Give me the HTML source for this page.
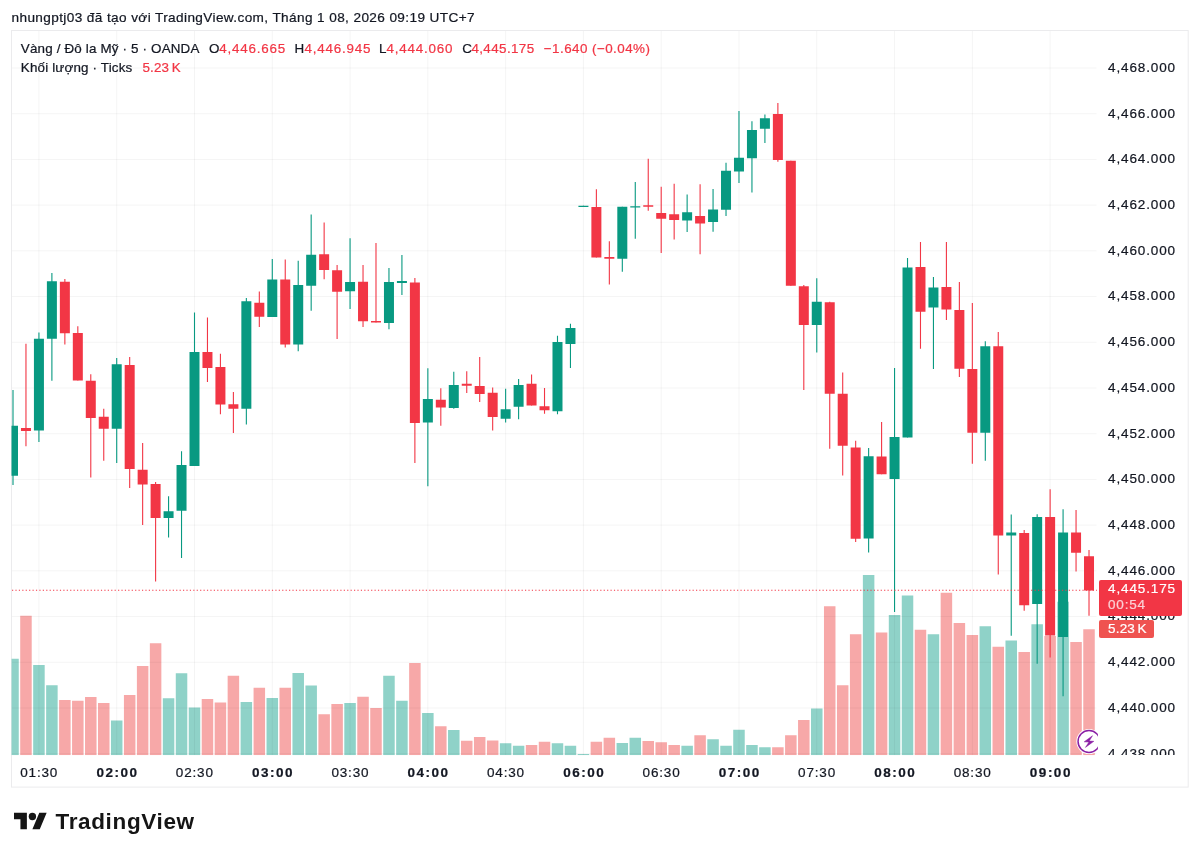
<!DOCTYPE html>
<html lang="vi"><head><meta charset="utf-8"><title>XAUUSD</title>
<style>
html,body{margin:0;padding:0;background:#fff;}
body{width:1200px;height:856px;position:relative;overflow:hidden;font-family:"Liberation Sans",sans-serif;color:#131722;}
.t{position:absolute;white-space:nowrap;line-height:1;-webkit-text-stroke:0.22px currentColor;}
.hd{font-size:13.6px;left:11.5px;top:11.35px;letter-spacing:0.39px}
.lg{font-size:13.4px;letter-spacing:0.17px}
.vk{word-spacing:-1.5px}
.r{color:#f23645;}
.pl{font-size:13.5px;letter-spacing:0.87px;left:1108px;}
.tl{font-size:13.5px;top:766.07px;letter-spacing:0.83px}
.tl.b{letter-spacing:1.5px}
.b{font-weight:bold;}
#axis{position:absolute;left:1098px;top:31px;width:90px;height:724.2px;overflow:hidden;}
#axis .pl{left:10px;}
</style></head><body>

<svg width="1200" height="856" viewBox="0 0 1200 856" style="position:absolute;left:0;top:0">
<defs><clipPath id="pane"><rect x="11.5" y="31" width="1085.5" height="724.2"/></clipPath><clipPath id="pane2"><rect x="11.5" y="31" width="1086.4" height="724.2"/></clipPath></defs>
<rect x="11.5" y="30.5" width="1176.7" height="756.6" fill="none" stroke="#ebebed" stroke-width="1"/>
<g clip-path="url(#pane)">
<rect x="7.25" y="658.75" width="11.5" height="96.45" fill="#8fd2c8"/>
<rect x="20.21" y="615.75" width="11.5" height="139.45" fill="#f7a8a8"/>
<rect x="33.18" y="665.00" width="11.5" height="90.20" fill="#8fd2c8"/>
<rect x="46.14" y="685.25" width="11.5" height="69.95" fill="#8fd2c8"/>
<rect x="59.11" y="700.00" width="11.5" height="55.20" fill="#f7a8a8"/>
<rect x="72.07" y="700.75" width="11.5" height="54.45" fill="#f7a8a8"/>
<rect x="85.03" y="697.00" width="11.5" height="58.20" fill="#f7a8a8"/>
<rect x="98.00" y="703.00" width="11.5" height="52.20" fill="#f7a8a8"/>
<rect x="110.96" y="720.50" width="11.5" height="34.70" fill="#8fd2c8"/>
<rect x="123.93" y="695.00" width="11.5" height="60.20" fill="#f7a8a8"/>
<rect x="136.89" y="666.00" width="11.5" height="89.20" fill="#f7a8a8"/>
<rect x="149.85" y="643.25" width="11.5" height="111.95" fill="#f7a8a8"/>
<rect x="162.82" y="698.25" width="11.5" height="56.95" fill="#8fd2c8"/>
<rect x="175.78" y="673.25" width="11.5" height="81.95" fill="#8fd2c8"/>
<rect x="188.75" y="707.50" width="11.5" height="47.70" fill="#8fd2c8"/>
<rect x="201.71" y="699.00" width="11.5" height="56.20" fill="#f7a8a8"/>
<rect x="214.67" y="702.50" width="11.5" height="52.70" fill="#f7a8a8"/>
<rect x="227.64" y="675.75" width="11.5" height="79.45" fill="#f7a8a8"/>
<rect x="240.60" y="702.00" width="11.5" height="53.20" fill="#8fd2c8"/>
<rect x="253.57" y="687.75" width="11.5" height="67.45" fill="#f7a8a8"/>
<rect x="266.53" y="698.00" width="11.5" height="57.20" fill="#8fd2c8"/>
<rect x="279.49" y="687.75" width="11.5" height="67.45" fill="#f7a8a8"/>
<rect x="292.46" y="673.00" width="11.5" height="82.20" fill="#8fd2c8"/>
<rect x="305.42" y="685.50" width="11.5" height="69.70" fill="#8fd2c8"/>
<rect x="318.39" y="714.25" width="11.5" height="40.95" fill="#f7a8a8"/>
<rect x="331.35" y="704.00" width="11.5" height="51.20" fill="#f7a8a8"/>
<rect x="344.31" y="703.00" width="11.5" height="52.20" fill="#8fd2c8"/>
<rect x="357.28" y="696.75" width="11.5" height="58.45" fill="#f7a8a8"/>
<rect x="370.24" y="708.00" width="11.5" height="47.20" fill="#f7a8a8"/>
<rect x="383.21" y="675.75" width="11.5" height="79.45" fill="#8fd2c8"/>
<rect x="396.17" y="700.75" width="11.5" height="54.45" fill="#8fd2c8"/>
<rect x="409.13" y="663.00" width="11.5" height="92.20" fill="#f7a8a8"/>
<rect x="422.10" y="713.00" width="11.5" height="42.20" fill="#8fd2c8"/>
<rect x="435.06" y="726.25" width="11.5" height="28.95" fill="#f7a8a8"/>
<rect x="448.03" y="730.00" width="11.5" height="25.20" fill="#8fd2c8"/>
<rect x="460.99" y="740.75" width="11.5" height="14.45" fill="#f7a8a8"/>
<rect x="473.95" y="737.00" width="11.5" height="18.20" fill="#f7a8a8"/>
<rect x="486.92" y="740.50" width="11.5" height="14.70" fill="#f7a8a8"/>
<rect x="499.88" y="743.25" width="11.5" height="11.95" fill="#8fd2c8"/>
<rect x="512.85" y="745.75" width="11.5" height="9.45" fill="#8fd2c8"/>
<rect x="525.81" y="745.00" width="11.5" height="10.20" fill="#f7a8a8"/>
<rect x="538.77" y="741.75" width="11.5" height="13.45" fill="#f7a8a8"/>
<rect x="551.74" y="743.25" width="11.5" height="11.95" fill="#8fd2c8"/>
<rect x="564.70" y="745.75" width="11.5" height="9.45" fill="#8fd2c8"/>
<rect x="577.67" y="754.00" width="11.5" height="1.20" fill="#8fd2c8"/>
<rect x="590.63" y="741.75" width="11.5" height="13.45" fill="#f7a8a8"/>
<rect x="603.59" y="737.75" width="11.5" height="17.45" fill="#f7a8a8"/>
<rect x="616.56" y="743.00" width="11.5" height="12.20" fill="#8fd2c8"/>
<rect x="629.52" y="737.75" width="11.5" height="17.45" fill="#8fd2c8"/>
<rect x="642.49" y="741.00" width="11.5" height="14.20" fill="#f7a8a8"/>
<rect x="655.45" y="742.25" width="11.5" height="12.95" fill="#f7a8a8"/>
<rect x="668.41" y="745.00" width="11.5" height="10.20" fill="#f7a8a8"/>
<rect x="681.38" y="745.75" width="11.5" height="9.45" fill="#8fd2c8"/>
<rect x="694.34" y="735.25" width="11.5" height="19.95" fill="#f7a8a8"/>
<rect x="707.31" y="739.25" width="11.5" height="15.95" fill="#8fd2c8"/>
<rect x="720.27" y="745.75" width="11.5" height="9.45" fill="#8fd2c8"/>
<rect x="733.23" y="729.75" width="11.5" height="25.45" fill="#8fd2c8"/>
<rect x="746.20" y="745.00" width="11.5" height="10.20" fill="#8fd2c8"/>
<rect x="759.16" y="747.25" width="11.5" height="7.95" fill="#8fd2c8"/>
<rect x="772.13" y="747.25" width="11.5" height="7.95" fill="#f7a8a8"/>
<rect x="785.09" y="735.25" width="11.5" height="19.95" fill="#f7a8a8"/>
<rect x="798.05" y="720.00" width="11.5" height="35.20" fill="#f7a8a8"/>
<rect x="811.02" y="708.50" width="11.5" height="46.70" fill="#8fd2c8"/>
<rect x="823.98" y="606.25" width="11.5" height="148.95" fill="#f7a8a8"/>
<rect x="836.95" y="685.25" width="11.5" height="69.95" fill="#f7a8a8"/>
<rect x="849.91" y="634.25" width="11.5" height="120.95" fill="#f7a8a8"/>
<rect x="862.87" y="575.00" width="11.5" height="180.20" fill="#8fd2c8"/>
<rect x="875.84" y="632.50" width="11.5" height="122.70" fill="#f7a8a8"/>
<rect x="888.80" y="615.00" width="11.5" height="140.20" fill="#8fd2c8"/>
<rect x="901.77" y="595.50" width="11.5" height="159.70" fill="#8fd2c8"/>
<rect x="914.73" y="629.75" width="11.5" height="125.45" fill="#f7a8a8"/>
<rect x="927.69" y="634.25" width="11.5" height="120.95" fill="#8fd2c8"/>
<rect x="940.66" y="592.75" width="11.5" height="162.45" fill="#f7a8a8"/>
<rect x="953.62" y="623.00" width="11.5" height="132.20" fill="#f7a8a8"/>
<rect x="966.59" y="635.00" width="11.5" height="120.20" fill="#f7a8a8"/>
<rect x="979.55" y="626.25" width="11.5" height="128.95" fill="#8fd2c8"/>
<rect x="992.51" y="646.75" width="11.5" height="108.45" fill="#f7a8a8"/>
<rect x="1005.48" y="640.50" width="11.5" height="114.70" fill="#8fd2c8"/>
<rect x="1018.44" y="652.00" width="11.5" height="103.20" fill="#f7a8a8"/>
<rect x="1031.41" y="624.25" width="11.5" height="130.95" fill="#8fd2c8"/>
<rect x="1044.37" y="636.00" width="11.5" height="119.20" fill="#f7a8a8"/>
<rect x="1057.33" y="601.70" width="11.5" height="153.50" fill="#8fd2c8"/>
<rect x="1070.30" y="642.00" width="11.5" height="113.20" fill="#f7a8a8"/>
<rect x="1083.26" y="629.25" width="11.5" height="125.95" fill="#f7a8a8"/>
<g stroke="#000" stroke-opacity="0.045" stroke-width="1" shape-rendering="auto"><line x1="38.93" y1="31" x2="38.93" y2="755" /><line x1="116.71" y1="31" x2="116.71" y2="755" /><line x1="194.50" y1="31" x2="194.50" y2="755" /><line x1="272.28" y1="31" x2="272.28" y2="755" /><line x1="350.06" y1="31" x2="350.06" y2="755" /><line x1="427.85" y1="31" x2="427.85" y2="755" /><line x1="505.63" y1="31" x2="505.63" y2="755" /><line x1="583.42" y1="31" x2="583.42" y2="755" /><line x1="661.20" y1="31" x2="661.20" y2="755" /><line x1="738.98" y1="31" x2="738.98" y2="755" /><line x1="816.77" y1="31" x2="816.77" y2="755" /><line x1="894.55" y1="31" x2="894.55" y2="755" /><line x1="972.34" y1="31" x2="972.34" y2="755" /><line x1="1050.12" y1="31" x2="1050.12" y2="755" /><line x1="12" y1="68.00" x2="1096.5" y2="68.00" /><line x1="12" y1="113.71" x2="1096.5" y2="113.71" /><line x1="12" y1="159.43" x2="1096.5" y2="159.43" /><line x1="12" y1="205.14" x2="1096.5" y2="205.14" /><line x1="12" y1="250.86" x2="1096.5" y2="250.86" /><line x1="12" y1="296.57" x2="1096.5" y2="296.57" /><line x1="12" y1="342.28" x2="1096.5" y2="342.28" /><line x1="12" y1="388.00" x2="1096.5" y2="388.00" /><line x1="12" y1="433.71" x2="1096.5" y2="433.71" /><line x1="12" y1="479.43" x2="1096.5" y2="479.43" /><line x1="12" y1="525.14" x2="1096.5" y2="525.14" /><line x1="12" y1="570.85" x2="1096.5" y2="570.85" /><line x1="12" y1="616.57" x2="1096.5" y2="616.57" /><line x1="12" y1="662.28" x2="1096.5" y2="662.28" /><line x1="12" y1="708.00" x2="1096.5" y2="708.00" /><line x1="12" y1="753.71" x2="1096.5" y2="753.71" /></g>
<rect x="12.45" y="390.00" width="1.1" height="95.00" fill="#089981"/>
<rect x="8.00" y="425.75" width="10.0" height="50.00" fill="#089981"/>
<rect x="25.41" y="343.75" width="1.1" height="102.50" fill="#f23645"/>
<rect x="20.96" y="428.00" width="10.0" height="3.00" fill="#f23645"/>
<rect x="38.38" y="332.50" width="1.1" height="109.50" fill="#089981"/>
<rect x="33.93" y="338.75" width="10.0" height="91.75" fill="#089981"/>
<rect x="51.34" y="273.00" width="1.1" height="107.75" fill="#089981"/>
<rect x="46.89" y="281.25" width="10.0" height="57.50" fill="#089981"/>
<rect x="64.31" y="279.00" width="1.1" height="65.50" fill="#f23645"/>
<rect x="59.86" y="281.75" width="10.0" height="51.50" fill="#f23645"/>
<rect x="77.27" y="326.25" width="1.1" height="54.25" fill="#f23645"/>
<rect x="72.82" y="333.00" width="10.0" height="47.50" fill="#f23645"/>
<rect x="90.23" y="374.25" width="1.1" height="103.25" fill="#f23645"/>
<rect x="85.78" y="380.75" width="10.0" height="37.25" fill="#f23645"/>
<rect x="103.20" y="408.75" width="1.1" height="52.00" fill="#f23645"/>
<rect x="98.75" y="416.75" width="10.0" height="12.00" fill="#f23645"/>
<rect x="116.16" y="358.00" width="1.1" height="105.00" fill="#089981"/>
<rect x="111.71" y="364.25" width="10.0" height="64.50" fill="#089981"/>
<rect x="129.13" y="357.00" width="1.1" height="131.00" fill="#f23645"/>
<rect x="124.68" y="365.00" width="10.0" height="104.00" fill="#f23645"/>
<rect x="142.09" y="443.00" width="1.1" height="82.00" fill="#f23645"/>
<rect x="137.64" y="469.75" width="10.0" height="14.75" fill="#f23645"/>
<rect x="155.05" y="482.00" width="1.1" height="99.50" fill="#f23645"/>
<rect x="150.60" y="484.00" width="10.0" height="34.00" fill="#f23645"/>
<rect x="168.02" y="496.25" width="1.1" height="41.25" fill="#089981"/>
<rect x="163.57" y="511.25" width="10.0" height="6.75" fill="#089981"/>
<rect x="180.98" y="451.25" width="1.1" height="106.75" fill="#089981"/>
<rect x="176.53" y="465.00" width="10.0" height="45.75" fill="#089981"/>
<rect x="193.95" y="312.50" width="1.1" height="153.50" fill="#089981"/>
<rect x="189.50" y="352.00" width="10.0" height="114.00" fill="#089981"/>
<rect x="206.91" y="317.50" width="1.1" height="64.50" fill="#f23645"/>
<rect x="202.46" y="352.00" width="10.0" height="16.00" fill="#f23645"/>
<rect x="219.87" y="353.75" width="1.1" height="60.50" fill="#f23645"/>
<rect x="215.42" y="367.00" width="10.0" height="37.50" fill="#f23645"/>
<rect x="232.84" y="392.00" width="1.1" height="41.00" fill="#f23645"/>
<rect x="228.39" y="404.25" width="10.0" height="4.50" fill="#f23645"/>
<rect x="245.80" y="298.00" width="1.1" height="126.50" fill="#089981"/>
<rect x="241.35" y="301.25" width="10.0" height="107.50" fill="#089981"/>
<rect x="258.77" y="291.50" width="1.1" height="35.50" fill="#f23645"/>
<rect x="254.32" y="302.75" width="10.0" height="14.00" fill="#f23645"/>
<rect x="271.73" y="259.00" width="1.1" height="58.00" fill="#089981"/>
<rect x="267.28" y="279.50" width="10.0" height="37.50" fill="#089981"/>
<rect x="284.69" y="259.50" width="1.1" height="88.00" fill="#f23645"/>
<rect x="280.24" y="279.50" width="10.0" height="65.00" fill="#f23645"/>
<rect x="297.66" y="260.75" width="1.1" height="90.50" fill="#089981"/>
<rect x="293.21" y="285.00" width="10.0" height="59.50" fill="#089981"/>
<rect x="310.62" y="214.50" width="1.1" height="96.25" fill="#089981"/>
<rect x="306.17" y="254.75" width="10.0" height="31.00" fill="#089981"/>
<rect x="323.59" y="222.50" width="1.1" height="56.75" fill="#f23645"/>
<rect x="319.14" y="254.25" width="10.0" height="15.75" fill="#f23645"/>
<rect x="336.55" y="265.00" width="1.1" height="74.00" fill="#f23645"/>
<rect x="332.10" y="270.25" width="10.0" height="21.50" fill="#f23645"/>
<rect x="349.51" y="238.25" width="1.1" height="70.75" fill="#089981"/>
<rect x="345.06" y="282.00" width="10.0" height="9.25" fill="#089981"/>
<rect x="362.48" y="265.00" width="1.1" height="62.00" fill="#f23645"/>
<rect x="358.03" y="281.75" width="10.0" height="39.50" fill="#f23645"/>
<rect x="375.44" y="243.00" width="1.1" height="79.50" fill="#f23645"/>
<rect x="370.99" y="321.00" width="10.0" height="1.50" fill="#f23645"/>
<rect x="388.41" y="268.00" width="1.1" height="61.25" fill="#089981"/>
<rect x="383.96" y="282.00" width="10.0" height="41.00" fill="#089981"/>
<rect x="401.37" y="255.00" width="1.1" height="40.00" fill="#089981"/>
<rect x="396.92" y="281.00" width="10.0" height="2.00" fill="#089981"/>
<rect x="414.33" y="278.00" width="1.1" height="185.00" fill="#f23645"/>
<rect x="409.88" y="282.50" width="10.0" height="140.50" fill="#f23645"/>
<rect x="427.30" y="368.25" width="1.1" height="118.00" fill="#089981"/>
<rect x="422.85" y="399.00" width="10.0" height="23.50" fill="#089981"/>
<rect x="440.26" y="388.25" width="1.1" height="37.50" fill="#f23645"/>
<rect x="435.81" y="399.75" width="10.0" height="7.75" fill="#f23645"/>
<rect x="453.23" y="371.75" width="1.1" height="37.00" fill="#089981"/>
<rect x="448.78" y="385.00" width="10.0" height="23.00" fill="#089981"/>
<rect x="466.19" y="371.25" width="1.1" height="21.75" fill="#f23645"/>
<rect x="461.74" y="383.75" width="10.0" height="2.00" fill="#f23645"/>
<rect x="479.15" y="357.00" width="1.1" height="45.00" fill="#f23645"/>
<rect x="474.70" y="386.00" width="10.0" height="8.00" fill="#f23645"/>
<rect x="492.12" y="387.50" width="1.1" height="43.00" fill="#f23645"/>
<rect x="487.67" y="392.75" width="10.0" height="24.25" fill="#f23645"/>
<rect x="505.08" y="388.75" width="1.1" height="33.75" fill="#089981"/>
<rect x="500.63" y="409.25" width="10.0" height="9.50" fill="#089981"/>
<rect x="518.05" y="379.00" width="1.1" height="40.25" fill="#089981"/>
<rect x="513.60" y="385.00" width="10.0" height="21.75" fill="#089981"/>
<rect x="531.01" y="374.50" width="1.1" height="31.00" fill="#f23645"/>
<rect x="526.56" y="383.75" width="10.0" height="21.75" fill="#f23645"/>
<rect x="543.97" y="388.00" width="1.1" height="25.75" fill="#f23645"/>
<rect x="539.52" y="406.25" width="10.0" height="4.00" fill="#f23645"/>
<rect x="556.94" y="335.75" width="1.1" height="78.50" fill="#089981"/>
<rect x="552.49" y="342.00" width="10.0" height="69.25" fill="#089981"/>
<rect x="569.90" y="323.75" width="1.1" height="44.25" fill="#089981"/>
<rect x="565.45" y="328.00" width="10.0" height="16.00" fill="#089981"/>
<rect x="582.87" y="205.75" width="1.1" height="1.25" fill="#089981"/>
<rect x="578.42" y="205.75" width="10.0" height="1.25" fill="#089981"/>
<rect x="595.83" y="189.25" width="1.1" height="68.25" fill="#f23645"/>
<rect x="591.38" y="207.00" width="10.0" height="50.50" fill="#f23645"/>
<rect x="608.79" y="241.25" width="1.1" height="43.25" fill="#f23645"/>
<rect x="604.34" y="257.00" width="10.0" height="1.75" fill="#f23645"/>
<rect x="621.76" y="206.75" width="1.1" height="65.00" fill="#089981"/>
<rect x="617.31" y="206.75" width="10.0" height="52.00" fill="#089981"/>
<rect x="634.72" y="182.00" width="1.1" height="56.75" fill="#089981"/>
<rect x="630.27" y="206.25" width="10.0" height="1.25" fill="#089981"/>
<rect x="647.69" y="158.75" width="1.1" height="52.00" fill="#f23645"/>
<rect x="643.24" y="205.25" width="10.0" height="1.50" fill="#f23645"/>
<rect x="660.65" y="186.75" width="1.1" height="66.25" fill="#f23645"/>
<rect x="656.20" y="213.00" width="10.0" height="5.75" fill="#f23645"/>
<rect x="673.61" y="183.75" width="1.1" height="55.75" fill="#f23645"/>
<rect x="669.16" y="214.25" width="10.0" height="5.75" fill="#f23645"/>
<rect x="686.58" y="194.50" width="1.1" height="37.50" fill="#089981"/>
<rect x="682.13" y="212.25" width="10.0" height="8.25" fill="#089981"/>
<rect x="699.54" y="184.25" width="1.1" height="70.00" fill="#f23645"/>
<rect x="695.09" y="216.00" width="10.0" height="7.50" fill="#f23645"/>
<rect x="712.51" y="189.00" width="1.1" height="42.75" fill="#089981"/>
<rect x="708.06" y="209.50" width="10.0" height="12.50" fill="#089981"/>
<rect x="725.47" y="162.75" width="1.1" height="53.25" fill="#089981"/>
<rect x="721.02" y="170.75" width="10.0" height="39.00" fill="#089981"/>
<rect x="738.43" y="111.00" width="1.1" height="72.00" fill="#089981"/>
<rect x="733.98" y="157.75" width="10.0" height="13.75" fill="#089981"/>
<rect x="751.40" y="121.25" width="1.1" height="71.25" fill="#089981"/>
<rect x="746.95" y="130.00" width="10.0" height="28.25" fill="#089981"/>
<rect x="764.36" y="114.50" width="1.1" height="28.50" fill="#089981"/>
<rect x="759.91" y="118.25" width="10.0" height="10.50" fill="#089981"/>
<rect x="777.33" y="103.00" width="1.1" height="58.75" fill="#f23645"/>
<rect x="772.88" y="114.00" width="10.0" height="46.00" fill="#f23645"/>
<rect x="790.29" y="160.75" width="1.1" height="125.00" fill="#f23645"/>
<rect x="785.84" y="160.75" width="10.0" height="125.00" fill="#f23645"/>
<rect x="803.25" y="285.00" width="1.1" height="105.00" fill="#f23645"/>
<rect x="798.80" y="286.25" width="10.0" height="38.75" fill="#f23645"/>
<rect x="816.22" y="278.25" width="1.1" height="74.25" fill="#089981"/>
<rect x="811.77" y="301.75" width="10.0" height="23.25" fill="#089981"/>
<rect x="829.18" y="301.75" width="1.1" height="147.00" fill="#f23645"/>
<rect x="824.73" y="302.25" width="10.0" height="91.50" fill="#f23645"/>
<rect x="842.15" y="372.50" width="1.1" height="103.00" fill="#f23645"/>
<rect x="837.70" y="393.75" width="10.0" height="52.00" fill="#f23645"/>
<rect x="855.11" y="440.75" width="1.1" height="101.25" fill="#f23645"/>
<rect x="850.66" y="447.50" width="10.0" height="91.25" fill="#f23645"/>
<rect x="868.07" y="448.00" width="1.1" height="104.50" fill="#089981"/>
<rect x="863.62" y="456.25" width="10.0" height="82.25" fill="#089981"/>
<rect x="881.04" y="422.00" width="1.1" height="52.25" fill="#f23645"/>
<rect x="876.59" y="456.50" width="10.0" height="17.75" fill="#f23645"/>
<rect x="894.00" y="368.00" width="1.1" height="244.00" fill="#089981"/>
<rect x="889.55" y="437.00" width="10.0" height="42.00" fill="#089981"/>
<rect x="906.97" y="258.00" width="1.1" height="179.50" fill="#089981"/>
<rect x="902.52" y="267.50" width="10.0" height="170.00" fill="#089981"/>
<rect x="919.93" y="242.00" width="1.1" height="106.75" fill="#f23645"/>
<rect x="915.48" y="267.00" width="10.0" height="44.75" fill="#f23645"/>
<rect x="932.89" y="277.00" width="1.1" height="92.00" fill="#089981"/>
<rect x="928.44" y="287.50" width="10.0" height="20.00" fill="#089981"/>
<rect x="945.86" y="242.00" width="1.1" height="78.00" fill="#f23645"/>
<rect x="941.41" y="287.00" width="10.0" height="22.50" fill="#f23645"/>
<rect x="958.82" y="282.00" width="1.1" height="95.00" fill="#f23645"/>
<rect x="954.37" y="310.00" width="10.0" height="58.75" fill="#f23645"/>
<rect x="971.79" y="303.00" width="1.1" height="160.75" fill="#f23645"/>
<rect x="967.34" y="369.00" width="10.0" height="63.75" fill="#f23645"/>
<rect x="984.75" y="341.25" width="1.1" height="119.50" fill="#089981"/>
<rect x="980.30" y="346.25" width="10.0" height="86.50" fill="#089981"/>
<rect x="997.71" y="332.00" width="1.1" height="242.50" fill="#f23645"/>
<rect x="993.26" y="346.25" width="10.0" height="189.25" fill="#f23645"/>
<rect x="1010.68" y="514.50" width="1.1" height="121.25" fill="#089981"/>
<rect x="1006.23" y="532.50" width="10.0" height="3.00" fill="#089981"/>
<rect x="1023.64" y="530.00" width="1.1" height="80.75" fill="#f23645"/>
<rect x="1019.19" y="533.00" width="10.0" height="72.25" fill="#f23645"/>
<rect x="1036.61" y="514.25" width="1.1" height="149.50" fill="#089981"/>
<rect x="1032.16" y="517.00" width="10.0" height="87.00" fill="#089981"/>
<rect x="1049.57" y="489.25" width="1.1" height="168.25" fill="#f23645"/>
<rect x="1045.12" y="517.00" width="10.0" height="118.50" fill="#f23645"/>
<rect x="1062.53" y="509.25" width="1.1" height="187.00" fill="#089981"/>
<rect x="1058.08" y="532.50" width="10.0" height="104.50" fill="#089981"/>
<rect x="1075.50" y="510.00" width="1.1" height="61.50" fill="#f23645"/>
<rect x="1071.05" y="532.50" width="10.0" height="20.25" fill="#f23645"/>
<rect x="1088.46" y="550.00" width="1.1" height="65.75" fill="#f23645"/>
<rect x="1084.01" y="556.25" width="10.0" height="34.25" fill="#f23645"/>
<line x1="12" y1="590.2" x2="1097" y2="590.2" stroke="#f23645" stroke-width="1.1" stroke-dasharray="1.2 2.22"/>
</g><g clip-path="url(#pane2)">
<circle cx="1089" cy="741.5" r="12.6" fill="#fff"/>
<circle cx="1089" cy="741.5" r="10.95" fill="#fff" stroke="#8a1fa5" stroke-width="1.5"/>
<path d="M1092.5,735.7 L1084.2,741.85 L1088.9,742.1 L1085.45,747.4 L1093.85,741.3 L1089.2,741.05 Z" fill="#8a1fa5" stroke="#8a1fa5" stroke-width="0.5" stroke-linejoin="round"/>
</g>
<g transform="translate(14,809.1) scale(0.92)" fill="#151515"><path d="M14 22H7V11H0V4h14v18zM28 22h-8l7.5-18h8L28 22z"/><circle cx="20" cy="8" r="4"/></g>
</svg>
<div class="t hd">nhungptj03 đã tạo với TradingView.com, Tháng 1 08, 2026 09:19 UTC+7</div>
<div class="t lg" style="left:20.8px;top:41.76px">Vàng / Đô la Mỹ · 5 · OANDA</div>
<div class="t lg" style="left:209.0px;top:41.76px">O</div>
<div class="t lg r" style="left:219.2px;top:41.76px;letter-spacing:0.82px">4,446.665</div>
<div class="t lg" style="left:294.4px;top:41.76px">H</div>
<div class="t lg r" style="left:304.4px;top:41.76px;letter-spacing:0.82px">4,446.945</div>
<div class="t lg" style="left:379.0px;top:41.76px">L</div>
<div class="t lg r" style="left:386.4px;top:41.76px;letter-spacing:0.82px">4,444.060</div>
<div class="t lg" style="left:462.3px;top:41.76px">C</div>
<div class="t lg r" style="left:471.4px;top:41.76px;letter-spacing:0.4px">4,445.175</div>
<div class="t lg r" style="left:543.8px;top:41.76px;letter-spacing:0.45px">−1.640 (−0.04%)</div>
<div class="t lg" style="left:20.8px;top:61.16px">Khối lượng · Ticks</div>
<div class="t lg r vk" style="left:142.5px;top:61.16px">5.23 K</div>
<div id="axis">
<div class="t pl" style="top:29.90px">4,468.000</div>
<div class="t pl" style="top:75.61px">4,466.000</div>
<div class="t pl" style="top:121.33px">4,464.000</div>
<div class="t pl" style="top:167.04px">4,462.000</div>
<div class="t pl" style="top:212.76px">4,460.000</div>
<div class="t pl" style="top:258.47px">4,458.000</div>
<div class="t pl" style="top:304.18px">4,456.000</div>
<div class="t pl" style="top:349.90px">4,454.000</div>
<div class="t pl" style="top:395.61px">4,452.000</div>
<div class="t pl" style="top:441.33px">4,450.000</div>
<div class="t pl" style="top:487.04px">4,448.000</div>
<div class="t pl" style="top:532.75px">4,446.000</div>
<div class="t pl" style="top:578.47px">4,444.000</div>
<div class="t pl" style="top:624.18px">4,442.000</div>
<div class="t pl" style="top:669.90px">4,440.000</div>
<div class="t pl" style="top:715.61px">4,438.000</div>
</div>
<div style="position:absolute;left:1098.7px;top:580.4px;width:83.5px;height:35.2px;border-radius:2px;background:#f23645"></div>
<div style="position:absolute;left:1098.7px;top:619.5px;width:55px;height:18.6px;border-radius:2px;background:#ef5350"></div>
<div class="t" style="left:1108px;top:582.2px;font-size:13.5px;letter-spacing:0.87px;color:#fff">4,445.175</div>
<div class="t" style="left:1108px;top:597.9px;font-size:13.5px;letter-spacing:0.83px;color:#fbd0d4">00:54</div>
<div class="t vk" style="left:1108px;top:622px;font-size:13.5px;letter-spacing:0.2px;color:#fff">5.23 K</div>
<div class="t tl" style="left:20.28px">01:30</div>
<div class="t tl b" style="left:96.46px">02:00</div>
<div class="t tl" style="left:175.85px">02:30</div>
<div class="t tl b" style="left:252.03px">03:00</div>
<div class="t tl" style="left:331.41px">03:30</div>
<div class="t tl b" style="left:407.60px">04:00</div>
<div class="t tl" style="left:486.98px">04:30</div>
<div class="t tl b" style="left:563.17px">06:00</div>
<div class="t tl" style="left:642.55px">06:30</div>
<div class="t tl b" style="left:718.73px">07:00</div>
<div class="t tl" style="left:798.12px">07:30</div>
<div class="t tl b" style="left:874.30px">08:00</div>
<div class="t tl" style="left:953.69px">08:30</div>
<div class="t tl b" style="left:1029.87px">09:00</div>
<div class="t b" style="left:55.5px;top:811.1px;font-size:22.5px;letter-spacing:0.65px;-webkit-text-stroke:0;color:#151515">TradingView</div>
</body></html>
